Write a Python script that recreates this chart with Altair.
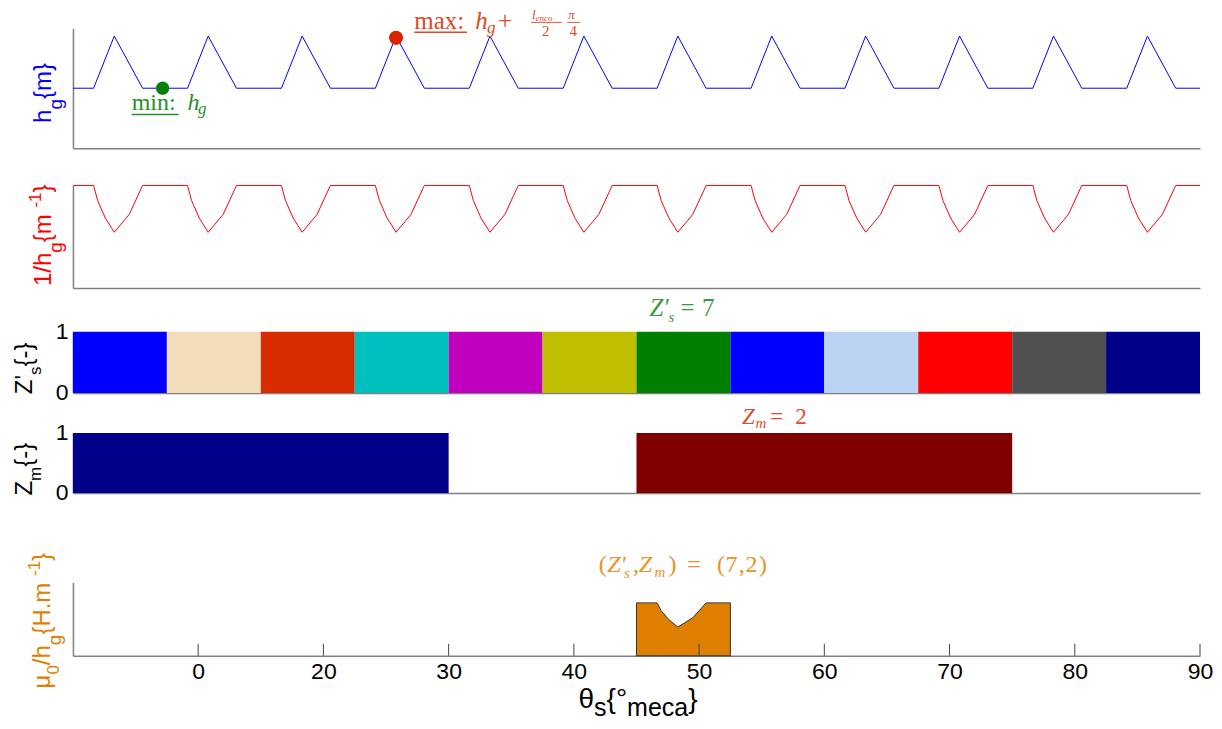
import altair as alt
import pandas as pd

SANS = "Liberation Sans"
SERIF = "Liberation Serif"
GREY = "#808080"
NB = "\u00a0"

# ------------------------------------------------------------------ data
x_min, x_max = 0, 90
tick_values = [10, 20, 30, 40, 50, 60, 70, 80, 90]
tick_labels = ["0", "20", "30", "40", "50", "60", "70", "80", "90"]

# stator teeth blocks (Z's panel)
zs_edges = [0, 7.5, 15, 22.5, 30, 37.5, 45, 52.5, 60, 67.5, 75, 82.5, 90]
zs_colors = ["#0000FF", "#F2DDBB", "#D92B00", "#00BFBF", "#BF00BF", "#BFBF00",
             "#008000", "#0000FF", "#BAD3F2", "#FF0000", "#505050", "#00008B"]
# magnet blocks (Zm panel)
zm_start = [0, 45]
zm_end = [30, 75]
zm_colors = ["#00008B", "#800000"]

# air gap h_g : flat level with one triangular bump per slot
peak_x = [3.3, 10.8, 18.3, 25.8, 33.3, 40.8, 48.3, 55.8, 63.3, 70.8, 78.3, 85.8]
hg_flat = 0.5
hg_dx = [-1.65, 0.0, 2.26]
hg_val = [0.5, 0.935, 0.5]
# 1/h_g : read shape of one dip
inv_flat = 2.0
inv_dx = [-1.65, -1.33, -0.72, 0.0, 1.19, 2.26]
inv_val = [2.0, 1.707, 1.367, 1.088, 1.434, 2.0]
# mu0/h_g for (Z's, Zm) = (7, 2)
mu_x0, mu_x1 = 45.0, 52.5
mu_peak = 48.3

min_pt = [7.16, 0.5]
max_pt = [25.8, 0.92]

# ------------------------------------------------------------------ frames
hx, hy = [x_min], [hg_flat]
for p in peak_x:
    for d, v in zip(hg_dx, hg_val):
        hx.append(p + d)
        hy.append(v)
hx.append(x_max)
hy.append(hg_flat)
df_hg = pd.DataFrame({"x": hx, "y": hy})

ix, iy = [x_min], [inv_flat]
for p in peak_x:
    for d, v in zip(inv_dx, inv_val):
        ix.append(p + d)
        iy.append(v)
ix.append(x_max)
iy.append(inv_flat)
df_inv = pd.DataFrame({"x": ix, "y": iy})

mx = [mu_x0] + [mu_peak + d for d in inv_dx] + [mu_x1]
my = [inv_flat] + inv_val + [inv_flat]
df_mu = pd.DataFrame({"x": mx, "y": my})

df_zs = pd.DataFrame({"x0": zs_edges[:-1], "x1": zs_edges[1:], "c": zs_colors,
                      "y0": 0, "y1": 1})
df_zm = pd.DataFrame({"x0": zm_start, "x1": zm_end, "c": zm_colors, "y0": 0, "y1": 1})
df_ticks = pd.DataFrame({"t": tick_values})
ONE = pd.DataFrame({"k": [0]})

# ------------------------------------------------------------------ helpers
W = 1128
xscale = alt.Scale(domain=[x_min, x_max], nice=False, zero=False)


def XQ(ax, field=None, datum=None):
    if datum is not None:
        return alt.X(datum=datum, type="quantitative", scale=xscale, axis=ax)
    return alt.X(field, type="quantitative", scale=xscale, axis=ax)


def YQ(sc, ax, field=None, datum=None):
    if datum is not None:
        return alt.Y(datum=datum, type="quantitative", scale=sc, axis=ax)
    return alt.Y(field, type="quantitative", scale=sc, axis=ax)


def plain_axis():
    return alt.Axis(labels=False, ticks=False, tickSize=0, grid=False, title=None,
                    domainColor=GREY, domainWidth=1.5)


def y01_axis():
    return alt.Axis(values=[0, 1], format="d", ticks=False, tickSize=0, grid=False,
                    title=None, domainColor=GREY, domainWidth=1.5, labelFont=SANS,
                    labelFontSize=23, labelColor="black", labelPadding=5)


SANS_W = {" ": 278, NB: 278, "{": 334, "}": 334, "-": 333, ".": 278, "/": 278,
          "H": 722, "Z": 611, "'": 191, "g": 556, "h": 556, "m": 833, "s": 500,
          "μ": 576, "θ": 556, "°": 400, "e": 556, "c": 500, "a": 556}


def sans_width(t, size):
    return sum(SANS_W.get(ch, 556) for ch in t) / 1000.0 * size


def rot_title(pieces, base_x, start_y, color):
    """vertical (270 deg) axis title made of pieces (text, size, shift)."""
    out, along = [], 0.0
    for text, size, shift in pieces:
        out.append(alt.Chart(ONE).mark_text(
            text=text, fontSize=size, font=SANS, color=color, angle=270,
            align="left", baseline="alphabetic").encode(
            x=alt.value(base_x + shift), y=alt.value(start_y - along)))
        along += sans_width(text, size)
    return out


def math_at(pieces, ax, ay, sc, axx, axy, color):
    """math-like annotation anchored at a data point; pieces (text,size,style,dx,dy)."""
    out = []
    for text, size, style, dx, dy in pieces:
        out.append(alt.Chart(ONE).mark_text(
            text=text, fontSize=size, font=SERIF, fontStyle=style, color=color,
            align="left", baseline="alphabetic", dx=dx, dy=dy).encode(
            x=XQ(axx, datum=ax), y=YQ(sc, axy, datum=ay)))
    return out


def hbar_at(ax, ay, sc, axx, axy, color, dx0, dx1, dy, width=1.2):
    return alt.Chart(ONE).mark_rule(
        color=color, strokeWidth=width, xOffset=dx0, x2Offset=dx1, yOffset=dy).encode(
        x=XQ(axx, datum=ax), x2=alt.X2(datum=ax), y=YQ(sc, axy, datum=ay))


# ------------------------------------------------------------------ panel 1 : h_g
H1 = 139
ys1 = alt.Scale(domain=[0, 1], range=[H1, 19], nice=False, zero=False)
ax1, ay1 = plain_axis(), plain_axis()
GREEN_T = "#2A8F2A"
RED_T = "#DC4A26"
p1_layers = [
    alt.Chart(df_hg).mark_line(color="#0000FF", strokeWidth=1).encode(
        x=XQ(ax1, "x"), y=YQ(ys1, ay1, "y")),
    alt.Chart(pd.DataFrame({"x": [min_pt[0]], "y": [min_pt[1]]})).mark_circle(
        color="#0A800A", opacity=1, size=175).encode(x=XQ(ax1, "x"), y=YQ(ys1, ay1, "y")),
    alt.Chart(pd.DataFrame({"x": [max_pt[0]], "y": [max_pt[1]]})).mark_circle(
        color="#DD2200", opacity=1, size=200).encode(x=XQ(ax1, "x"), y=YQ(ys1, ay1, "y")),
]
p1_layers += math_at([("min:", 24, "normal", -31, 21.5),
                      ("h", 24, "italic", 25, 21.5),
                      ("g", 17, "italic", 35.5, 25.5)],
                     min_pt[0], min_pt[1], ys1, ax1, ay1, GREEN_T)
p1_layers.append(hbar_at(min_pt[0], min_pt[1], ys1, ax1, ay1, GREEN_T, -31, 16, 26.3, 1.5))
p1_layers += math_at([("max:", 25, "normal", 18.3, -8.7),
                      ("h", 25, "italic", 79.3, -8.7),
                      ("g", 17, "italic", 91, -5),
                      ("+", 25, "normal", 102, -8.7),
                      ("l", 13, "italic", 136, -18.4),
                      ("enco", 9, "italic", 139.5, -17.0),
                      ("2", 15, "normal", 146, -1.7),
                      ("π", 13, "italic", 172.3, -18.4),
                      ("4", 15, "normal", 173.5, -1.7)],
                     max_pt[0], max_pt[1], ys1, ax1, ay1, RED_T)
p1_layers.append(hbar_at(max_pt[0], max_pt[1], ys1, ax1, ay1, RED_T, 18.3, 71, -5.7, 1.5))
p1_layers.append(hbar_at(max_pt[0], max_pt[1], ys1, ax1, ay1, RED_T, 135, 166, -15.5, 0.9))
p1_layers.append(hbar_at(max_pt[0], max_pt[1], ys1, ax1, ay1, RED_T, 171.3, 184.3, -15.5, 0.9))
p1_layers += rot_title([("h", 24, 0), ("g", 19, 11), (NB + "{m}", 24, 0)],
                       -22, 113.7, "#0000FF")
p1 = alt.layer(*p1_layers).properties(width=W, height=H1)

# ------------------------------------------------------------------ panel 2 : 1/h_g
H2 = 140
ys2 = alt.Scale(domain=[0, 2], range=[H2, 37.3], nice=False, zero=False)
ax2, ay2 = plain_axis(), plain_axis()
p2_layers = [
    alt.Chart(df_inv).mark_line(color="#FF0000", strokeWidth=1).encode(
        x=XQ(ax2, "x"), y=YQ(ys2, ay2, "y")),
]
p2_layers += rot_title([("1/h", 24, 0), ("g", 19, 11), (NB + "{m", 24, 0), ("-1", 17, -10),
                        ("}", 24, 0)], -22, 138, "#FF0000")
p2 = alt.layer(*p2_layers).properties(width=W, height=H2)

# ------------------------------------------------------------------ panel 3 : Z's
H3 = 105
ys3 = alt.Scale(domain=[0, 1], range=[H3, 43.7], nice=False, zero=False)
ax3, ay3 = plain_axis(), y01_axis()
p3_layers = [
    alt.Chart(df_zs).mark_rect(strokeWidth=0).encode(
        x=XQ(ax3, "x0"), x2="x1",
        y=YQ(ys3, ay3, "y0"), y2="y1",
        color=alt.Color("c:N", scale=None)),
]
p3_layers += math_at([("Z′", 25, "italic", -34, -15.7),
                      ("s", 15, "italic", -15, -9.7),
                      ("=", 25, "normal", -3, -15.7),
                      ("7", 25, "normal", 18.7, -15.7)],
                     48.75, 1, ys3, ax3, ay3, "#3A9A3A")
p3_layers += rot_title([("Z", 24, 0), ("'", 24, 0), ("s", 17, 9), (NB + "{-}", 24, 0)],
                       -41, 106.3, "black")
p3 = alt.layer(*p3_layers).properties(width=W, height=H3)

# ------------------------------------------------------------------ panel 4 : Zm
H4 = 100
ys4 = alt.Scale(domain=[0, 1], range=[H4, 40], nice=False, zero=False)
ax4, ay4 = plain_axis(), y01_axis()
p4_layers = [
    alt.Chart(df_zm).mark_rect(strokeWidth=0).encode(
        x=XQ(ax4, "x0"), x2="x1",
        y=YQ(ys4, ay4, "y0"), y2="y1",
        color=alt.Color("c:N", scale=None)),
]
p4_layers += math_at([("Z", 23, "italic", -35.3, -9),
                      ("m", 15, "italic", -22, -5),
                      ("=", 23, "normal", -7, -9),
                      ("2", 23, "normal", 18, -9)],
                     56.25, 1, ys4, ax4, ay4, "#E04A2A")
p4_layers += rot_title([("Z", 24, 0), ("m", 17, 9), (NB + "{-}", 24, 0)],
                       -41, 102.7, "black")
p4 = alt.layer(*p4_layers).properties(width=W, height=H4)

# ------------------------------------------------------------------ panel 5 : mu0/h_g
H5 = 163
MU_TOP = 2.77
ys5 = alt.Scale(domain=[0, MU_TOP], range=[H5, 89.7], nice=False, zero=False)
label_expr = "[{}][indexof([{}], datum.value)]".format(
    ",".join("'%s'" % s for s in tick_labels), ",".join(str(v) for v in tick_values))
ax5 = alt.Axis(values=tick_values, labelExpr=label_expr, ticks=False, tickSize=0,
               grid=False, title=None, domainColor=GREY, domainWidth=1.5,
               labelFont=SANS, labelFontSize=23, labelColor="black",
               labelPadding=5, labelFlush=False)
ay5 = plain_axis()
ORANGE_T = "#E8922A"
p5_layers = [
    alt.Chart(df_mu).mark_area(color="#DF7F00", stroke="#333333", strokeWidth=1,
                               opacity=1).encode(
        x=XQ(ax5, "x"), y=YQ(ys5, ay5, "y")),
    alt.Chart(df_ticks).mark_rule(color="#444444", strokeWidth=1).encode(
        x=XQ(ax5, "t"), y=alt.value(H5), y2=alt.value(H5 - 12)),
]
p5_layers += math_at([("(", 24, "normal", -84.7, -10.7),
                      ("Z′", 24, "italic", -76.3, -10.7),
                      ("s", 15, "italic", -59.5, -5),
                      (",", 24, "normal", -50.5, -10.7),
                      ("Z", 24, "italic", -44.7, -10.7),
                      ("m", 15, "italic", -29, -6),
                      (")", 24, "normal", -15, -10.7),
                      ("=", 24, "normal", 3.7, -10.7),
                      ("(", 24, "normal", 33.7, -10.7),
                      ("7", 24, "normal", 42, -10.7),
                      (",", 24, "normal", 55.3, -10.7),
                      ("2", 24, "normal", 62, -10.7),
                      (")", 24, "normal", 75.5, -10.7)],
                     48.75, MU_TOP, ys5, ax5, ay5, ORANGE_T)
p5_layers += rot_title([("μ", 24, 0), ("0", 17, 9), ("/h", 24, 0), ("g", 19, 11),
                        (NB + "{H.m", 24, 0), ("-1", 17, -10), ("}", 24, 0)],
                       -23, 195.7, "#E08000")
# x label  θs{°meca}
xl_pieces = [("θ", 28, 0), ("s", 25, 8), ("{°", 28, 0), ("meca", 25, 8), ("}", 28, 0)]
cx = 506.0
for text, size, shift in xl_pieces:
    p5_layers.append(alt.Chart(ONE).mark_text(
        text=text, fontSize=size, font=SANS, color="black", align="left",
        baseline="alphabetic").encode(x=alt.value(cx), y=alt.value(215.5 + shift)))
    cx += sans_width(text, size)
p5 = alt.layer(*p5_layers).properties(width=W, height=H5)

chart = alt.VConcatChart(vconcat=[p1, p2, p3, p4, p5], spacing=0, bounds="flush").properties(
    padding={"left": 4, "top": 0, "right": 0, "bottom": 0}, background="white"
).configure_view(stroke="transparent")

chart.save("out.html", embed_options={"renderer": "svg", "actions": False})
